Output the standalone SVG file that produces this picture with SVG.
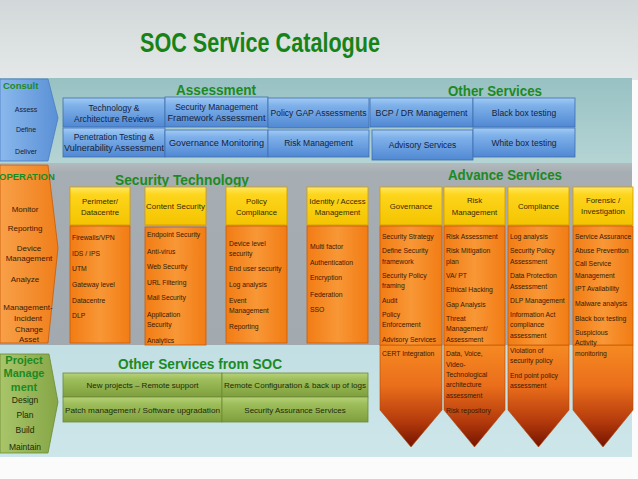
<svg xmlns="http://www.w3.org/2000/svg" width="638" height="479" viewBox="0 0 638 479">
<defs>
<linearGradient id="bg" x1="0" y1="0" x2="0" y2="1"><stop offset="0" stop-color="#d2d8d9"/><stop offset="1" stop-color="#e4e8e8"/></linearGradient>
<linearGradient id="teal" x1="0" y1="0" x2="0" y2="1"><stop offset="0" stop-color="#98c1c3"/><stop offset="1" stop-color="#b5d4d4"/></linearGradient>
<linearGradient id="grey" x1="0" y1="0" x2="0" y2="1"><stop offset="0" stop-color="#b4bbbf"/><stop offset="0.05" stop-color="#a6aeb3"/><stop offset="1" stop-color="#a2aaaf"/></linearGradient>
<linearGradient id="lblue" x1="0" y1="0" x2="0" y2="1"><stop offset="0" stop-color="#c2dfe4"/><stop offset="1" stop-color="#cde6ea"/></linearGradient>
<linearGradient id="blue" x1="0" y1="0" x2="0" y2="1"><stop offset="0" stop-color="#a3cbf4"/><stop offset="0.25" stop-color="#7fb1ea"/><stop offset="1" stop-color="#5088d3"/></linearGradient>
<linearGradient id="cblue" x1="0" y1="0" x2="1" y2="0"><stop offset="0" stop-color="#8ab8ec"/><stop offset="1" stop-color="#5a90d6"/></linearGradient>
<linearGradient id="yel" x1="0" y1="0" x2="0" y2="1"><stop offset="0" stop-color="#ffe862"/><stop offset="0.2" stop-color="#fdd51c"/><stop offset="1" stop-color="#f4c400"/></linearGradient>
<linearGradient id="org" x1="0" y1="0" x2="1" y2="0"><stop offset="0" stop-color="#f27c14"/><stop offset="0.5" stop-color="#f89736"/><stop offset="1" stop-color="#f27c14"/></linearGradient>
<linearGradient id="oper" x1="0" y1="0" x2="1" y2="0"><stop offset="0" stop-color="#f8a048"/><stop offset="1" stop-color="#f07e1a"/></linearGradient>
<linearGradient id="chev" x1="0" y1="0" x2="0" y2="1"><stop offset="0" stop-color="#f68a22"/><stop offset="0.4" stop-color="#ea6e1b"/><stop offset="0.75" stop-color="#b43a0c"/><stop offset="1" stop-color="#741400"/></linearGradient>
<linearGradient id="grn" x1="0" y1="0" x2="0" y2="1"><stop offset="0" stop-color="#b8d27a"/><stop offset="0.25" stop-color="#9fbf5c"/><stop offset="1" stop-color="#7f9f3e"/></linearGradient>
<linearGradient id="pgrn" x1="0" y1="0" x2="1" y2="0"><stop offset="0" stop-color="#a9c56a"/><stop offset="1" stop-color="#86a646"/></linearGradient>
</defs>
<style>
text{font-family:"Liberation Sans",Arial,sans-serif}
.ttl{font-size:28px;font-weight:bold;fill:#178317;text-anchor:middle}
.sec{font-size:14px;font-weight:bold;fill:#1c8a22;text-anchor:middle}
.lab{font-size:9.5px;font-weight:bold;fill:#1c8a22}
.bx{stroke:#3f6fae;stroke-width:0.8;fill:url(#blue)}
.bt{font-size:8.5px;fill:#15233a;text-anchor:middle}
.yh{stroke:#d29a00;stroke-width:0.8;fill:url(#yel)}
.ht{font-size:7.8px;fill:#3a2a00;text-anchor:middle}
.ob{stroke:#c85a08;stroke-width:0.8;fill:url(#org)}
.cv{stroke:#b04a08;stroke-width:0.6;fill:url(#chev)}
.it{font-size:6.8px;fill:#3a1a05}
.lf{font-size:7px;fill:#1a2030;text-anchor:middle}
.lo{font-size:8px;fill:#3a1a05;text-anchor:middle}
.gb{stroke:#6a8a34;stroke-width:0.8;fill:url(#grn)}
.gt{font-size:8px;fill:#1c2a08;text-anchor:middle}
.lp{font-size:8.5px;fill:#1c2a08;text-anchor:middle}
.pl{font-size:11px;font-weight:bold;fill:#1c8a22;text-anchor:middle}
</style>

<rect x="0" y="0" width="638" height="479" fill="#fbfbfb"/>
<rect x="0" y="0" width="638" height="80" fill="url(#bg)"/>
<text class="ttl" x="260" y="52" textLength="240" lengthAdjust="spacingAndGlyphs">SOC Service Catalogue</text>

<!-- bands -->
<rect x="0" y="78" width="632" height="85" fill="url(#teal)"/>
<rect x="0" y="163" width="632" height="182" fill="url(#grey)"/>
<rect x="0" y="345" width="632" height="112" fill="url(#lblue)"/>

<!-- Consult chevron -->
<g id="consult">
<polygon points="0,79 48,79 58,118 48,161 0,161" fill="url(#cblue)" stroke="#4a7cc0" stroke-width="0.8"/>
<text class="lab" x="3" y="89">Consult</text>
<text class="lf" x="26" y="112">Assess</text>
<text class="lf" x="26" y="132">Define</text>
<text class="lf" x="26" y="154">Deliver</text>
</g>

<g id="assessment-title"><text class="sec" x="216" y="95" textLength="80" lengthAdjust="spacingAndGlyphs">Assessment</text></g>
<g id="other-services-title"><text class="sec" x="495" y="96" textLength="94" lengthAdjust="spacingAndGlyphs">Other Services</text></g>

<g id="tech-arch"><rect class="bx" x="63" y="98" width="102" height="29"/><text class="bt" x="114" y="111">Technology &amp;</text><text class="bt" x="114" y="122">Architecture Reviews</text></g>
<g id="sec-mgmt"><rect class="bx" x="165" y="97" width="103" height="30"/><text class="bt" x="216.5" y="110">Security Management</text><text class="bt" x="216.5" y="121" textLength="98" lengthAdjust="spacingAndGlyphs">Framework Assessment</text></g>
<g id="policy-gap"><rect class="bx" x="268" y="98" width="101" height="30"/><text class="bt" x="318.5" y="116" textLength="96" lengthAdjust="spacingAndGlyphs">Policy GAP Assessments</text></g>
<g id="pen-test"><rect class="bx" x="63" y="128" width="102" height="29"/><text class="bt" x="114" y="140">Penetration Testing &amp;</text><text class="bt" x="114" y="151" textLength="100" lengthAdjust="spacingAndGlyphs">Vulnerability Assessment</text></g>
<g id="gov-mon"><rect class="bx" x="165" y="130" width="103" height="27"/><text class="bt" x="216.5" y="146" textLength="95" lengthAdjust="spacingAndGlyphs">Governance Monitoring</text></g>
<g id="risk-mgmt"><rect class="bx" x="268" y="130" width="101" height="27"/><text class="bt" x="318.5" y="146">Risk Management</text></g>
<g id="bcp-dr"><rect class="bx" x="370" y="98" width="103" height="29"/><text class="bt" x="421.5" y="116" textLength="92" lengthAdjust="spacingAndGlyphs">BCP / DR Management</text></g>
<g id="black-box"><rect class="bx" x="473" y="98" width="102" height="29"/><text class="bt" x="524" y="116">Black box testing</text></g>
<g id="advisory"><rect class="bx" x="372" y="130" width="101" height="30"/><text class="bt" x="422.5" y="148">Advisory Services</text></g>
<g id="white-box"><rect class="bx" x="473" y="128" width="102" height="29"/><text class="bt" x="524" y="146">White box testing</text></g>

<!-- Operation chevron -->
<g id="operation">
<polygon points="0,165 48,165 58,248 48,343 0,343" fill="url(#oper)" stroke="#c85a08" stroke-width="0.8"/>
<text class="lab" x="-1" y="180">OPERATION</text>
<text class="lo" x="25" y="212">Monitor</text>
<text class="lo" x="25" y="231">Reporting</text>
<text class="lo" x="29" y="251">Device</text>
<text class="lo" x="29" y="261">Management</text>
<text class="lo" x="25" y="282">Analyze</text>
<text class="lo" x="28" y="310">Management-</text>
<text class="lo" x="28" y="321">Incident</text>
<text class="lo" x="29" y="332">Change</text>
<text class="lo" x="29" y="342">Asset</text>
</g>

<g id="sec-tech-title"><text class="sec" x="182" y="185" textLength="134" lengthAdjust="spacingAndGlyphs">Security  Technology</text></g>
<g id="adv-services-title"><text class="sec" x="505" y="180" textLength="114" lengthAdjust="spacingAndGlyphs">Advance Services</text></g>

<!-- Security technology columns -->
<g id="perimeter">
<rect class="yh" x="70" y="187" width="60" height="38"/>
<text class="ht" x="100" y="204">Perimeter/</text><text class="ht" x="100" y="215">Datacentre</text>
<rect class="ob" x="70" y="226" width="60" height="117"/>
<text class="it" x="72" y="240">Firewalls/VPN</text>
<text class="it" x="72" y="256">IDS / IPS</text>
<text class="it" x="72" y="271">UTM</text>
<text class="it" x="72" y="287">Gateway level</text>
<text class="it" x="72" y="303">Datacentre</text>
<text class="it" x="72" y="318">DLP</text>
</g>
<g id="content-sec">
<rect class="yh" x="145" y="187" width="61" height="38"/>
<text class="ht" x="175.5" y="209" textLength="59" lengthAdjust="spacingAndGlyphs">Content Security</text>
<rect class="ob" x="145" y="227" width="61" height="118"/>
<text class="it" x="147" y="237">Endpoint Security</text>
<text class="it" x="147" y="254">Anti-virus</text>
<text class="it" x="147" y="269">Web Security</text>
<text class="it" x="147" y="285">URL Filtering</text>
<text class="it" x="147" y="300">Mail Security</text>
<text class="it" x="147" y="317">Application</text>
<text class="it" x="147" y="327">Security</text>
<text class="it" x="147" y="343">Analytics</text>
</g>
<g id="policy-comp">
<rect class="yh" x="226" y="187" width="61" height="38"/>
<text class="ht" x="256.5" y="204">Policy</text><text class="ht" x="256.5" y="215">Compliance</text>
<rect class="ob" x="226" y="226" width="61" height="117"/>
<text class="it" x="229" y="246">Device level</text>
<text class="it" x="229" y="256">security</text>
<text class="it" x="229" y="271">End user security</text>
<text class="it" x="229" y="287">Log analysis</text>
<text class="it" x="229" y="303">Event</text>
<text class="it" x="229" y="313">Management</text>
<text class="it" x="229" y="329">Reporting</text>
</g>
<g id="identity">
<rect class="yh" x="307" y="187" width="61" height="38"/>
<text class="ht" x="337.5" y="204">Identity / Access</text><text class="ht" x="337.5" y="215">Management</text>
<rect class="ob" x="307" y="226" width="61" height="117"/>
<text class="it" x="310" y="249">Multi factor</text>
<text class="it" x="310" y="265">Authentication</text>
<text class="it" x="310" y="280">Encryption</text>
<text class="it" x="310" y="297">Federation</text>
<text class="it" x="310" y="312">SSO</text>
</g>

<!-- Advance services columns -->
<g id="governance">
<rect class="yh" x="380" y="187" width="62" height="38"/>
<text class="ht" x="411" y="209">Governance</text>
<path class="cv" d="M380,345 H442 V410 L411,447 L380,410 Z"/>
<rect class="ob" x="380" y="226" width="62" height="119"/>
<text class="it" x="382" y="239">Security Strategy</text>
<text class="it" x="382" y="253">Define Security</text>
<text class="it" x="382" y="264">framework</text>
<text class="it" x="382" y="278">Security Policy</text>
<text class="it" x="382" y="288">framing</text>
<text class="it" x="382" y="303">Audit</text>
<text class="it" x="382" y="317">Policy</text>
<text class="it" x="382" y="327">Enforcement</text>
<text class="it" x="382" y="342">Advisory Services</text>
<text class="it" x="382" y="356">CERT Integration</text>
</g>
<g id="risk">
<rect class="yh" x="444" y="187" width="61" height="38"/>
<text class="ht" x="474.5" y="203">Risk</text><text class="ht" x="474.5" y="215">Management</text>
<path class="cv" d="M444,345 H505 V410 L474.5,447 L444,410 Z"/>
<rect class="ob" x="444" y="226" width="61" height="119"/>
<text class="it" x="446" y="239">Risk Assessment</text>
<text class="it" x="446" y="253">Risk Mitigation</text>
<text class="it" x="446" y="264">plan</text>
<text class="it" x="446" y="278">VA/ PT</text>
<text class="it" x="446" y="292">Ethical Hacking</text>
<text class="it" x="446" y="307">Gap Analysis</text>
<text class="it" x="446" y="321">Threat</text>
<text class="it" x="446" y="331">Management/</text>
<text class="it" x="446" y="342">Assessment</text>
<text class="it" x="446" y="356">Data, Voice,</text>
<text class="it" x="446" y="367">Video-</text>
<text class="it" x="446" y="377">Technological</text>
<text class="it" x="446" y="387">architecture</text>
<text class="it" x="446" y="398">assessment</text>
<text class="it" x="446" y="413">Risk repository</text>
</g>
<g id="compliance">
<rect class="yh" x="508" y="187" width="61" height="38"/>
<text class="ht" x="538.5" y="209">Compliance</text>
<path class="cv" d="M508,345 H569 V410 L538.5,447 L508,410 Z"/>
<rect class="ob" x="508" y="226" width="61" height="119"/>
<text class="it" x="510" y="239">Log analysis</text>
<text class="it" x="510" y="253">Security Policy</text>
<text class="it" x="510" y="264">Assessment</text>
<text class="it" x="510" y="278">Data Protection</text>
<text class="it" x="510" y="289">Assessment</text>
<text class="it" x="510" y="303">DLP Management</text>
<text class="it" x="510" y="317">Information Act</text>
<text class="it" x="510" y="327">compliance</text>
<text class="it" x="510" y="338">assessment</text>
<text class="it" x="510" y="353">Violation of</text>
<text class="it" x="510" y="363">security policy</text>
<text class="it" x="510" y="378">End point policy</text>
<text class="it" x="510" y="388">assessment</text>
</g>
<g id="forensic">
<rect class="yh" x="573" y="187" width="60" height="38"/>
<text class="ht" x="603" y="203">Forensic /</text><text class="ht" x="603" y="214">Investigation</text>
<path class="cv" d="M573,345 H633 V410 L603,447 L573,410 Z"/>
<rect class="ob" x="573" y="226" width="60" height="119"/>
<text class="it" x="575" y="239">Service Assurance</text>
<text class="it" x="575" y="253">Abuse Prevention</text>
<text class="it" x="575" y="266">Call Service</text>
<text class="it" x="575" y="278">Management</text>
<text class="it" x="575" y="291">IPT Availability</text>
<text class="it" x="575" y="306">Malware analysis</text>
<text class="it" x="575" y="321">Black box testing</text>
<text class="it" x="575" y="335">Suspicious</text>
<text class="it" x="575" y="345">Activity</text>
<text class="it" x="575" y="356">monitoring</text>
</g>

<!-- Project management chevron -->
<g id="project-mgmt">
<polygon points="0,354 49,354 58,402 48,453 0,453" fill="url(#pgrn)" stroke="#6a8a34" stroke-width="0.8"/>
<text class="pl" x="24" y="364">Project</text>
<text class="pl" x="24" y="377">Manage</text>
<text class="pl" x="24" y="391">ment</text>
<text class="lp" x="25" y="403">Design</text>
<text class="lp" x="25" y="418">Plan</text>
<text class="lp" x="25" y="433">Build</text>
<text class="lp" x="25" y="450">Maintain</text>
</g>

<g id="other-soc-title"><text class="sec" x="200" y="369" textLength="164" lengthAdjust="spacingAndGlyphs">Other Services from SOC</text></g>

<g id="new-projects"><rect class="gb" x="63" y="373" width="159" height="24"/><text class="gt" x="142.5" y="388">New projects – Remote support</text></g>
<g id="patch-mgmt"><rect class="gb" x="63" y="397" width="159" height="25"/><text class="gt" x="142.5" y="413" textLength="155" lengthAdjust="spacingAndGlyphs">Patch management / Software upgradation</text></g>
<g id="remote-config"><rect class="gb" x="222" y="373" width="146" height="24"/><text class="gt" x="295" y="388" textLength="142" lengthAdjust="spacingAndGlyphs">Remote Configuration &amp; back up of logs</text></g>
<g id="sec-assurance"><rect class="gb" x="222" y="397" width="146" height="25"/><text class="gt" x="295" y="413">Security Assurance Services</text></g>
</svg>
